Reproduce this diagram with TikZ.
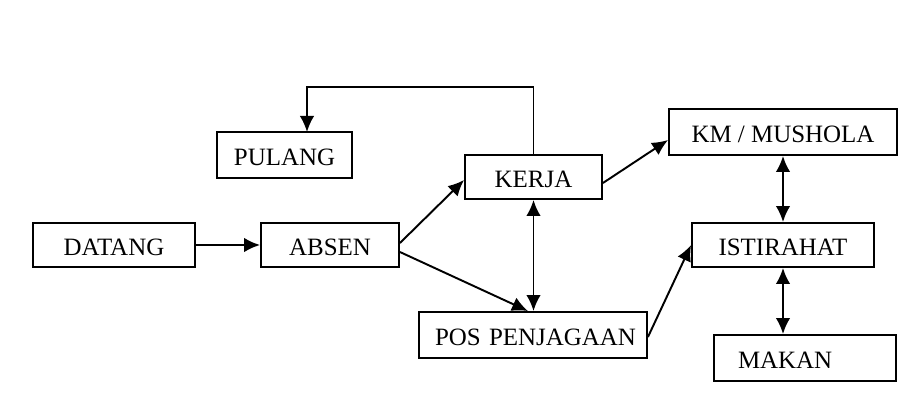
\documentclass[tikz,border=0pt]{standalone}
\usepackage{fontspec}
\setmainfont{Liberation Serif}
\usetikzlibrary{arrows.meta}
\tikzset{blok/.style={draw,line width=1.1pt,minimum height=0.88cm,inner sep=0pt,text height=0.44cm,text depth=0pt},
  panah/.style={-{Latex[length=0.32cm,width=0.29cm]},line width=1.1pt},
  duapanah/.style={{Latex[length=0.32cm,width=0.29cm]}-{Latex[length=0.32cm,width=0.29cm]},line width=1.1pt}
}
\begin{document}
\begin{tikzpicture}[x=0.02cm,y=-0.02cm]
\fontsize{14.2}{17}\selectfont
\useasboundingbox (0,0) rectangle (913,408);
\node[blok,minimum width=3.24cm] (datang) at (114,245) {DATANG};
\node[blok,minimum width=2.76cm] (absen) at (330,245) {ABSEN};
\node[blok,minimum width=2.7cm,minimum height=0.92cm] (pulang) at (284.5,155) {PULANG};
\node[blok,minimum width=2.74cm] (kerja) at (533.5,177) {KERJA};
\node[blok,minimum width=4.56cm,minimum height=0.92cm] (km) at (783,132) {KM / MUSHOLA};
\node[blok,minimum width=3.64cm] (istirahat) at (783,245) {ISTIRAHAT};
\node[blok,minimum height=0.92cm,text width=3.92cm,inner xsep=0.32cm,align=left] (pos) at (533,335) {\mbox{POS PENJAGAAN}};
\node[blok,minimum height=0.92cm,text width=2.68cm,inner xsep=0.48cm,align=left] (makan) at (805,358) {MAKAN};
\coordinate (atas) at (0,87);
\coordinate (pulangmasuk) at (307,132);
\draw[panah] (datang) -- (absen);
\draw[panah] (kerja.north) |- (pulangmasuk |- atas) -- (pulangmasuk);
\draw[panah] ([yshift=0.04cm]absen.east) -- ([yshift=-0.06cm]kerja.west);
\draw[panah] ([yshift=-0.14cm]absen.east) -- ([xshift=-0.1cm]pos.north);
\draw[duapanah] (kerja.south) -- (pos.north -| kerja.south);
\draw[panah] ([yshift=-0.12cm]kerja.east) -- ([yshift=-0.16cm]km.west);
\draw[duapanah] (km.south) -- (istirahat.north);
\draw[duapanah] (istirahat.south) -- (istirahat.south |- makan.north);
\draw[panah] ([yshift=-0.04cm]pos.east) -- (istirahat.west);
\end{tikzpicture}
\end{document}
